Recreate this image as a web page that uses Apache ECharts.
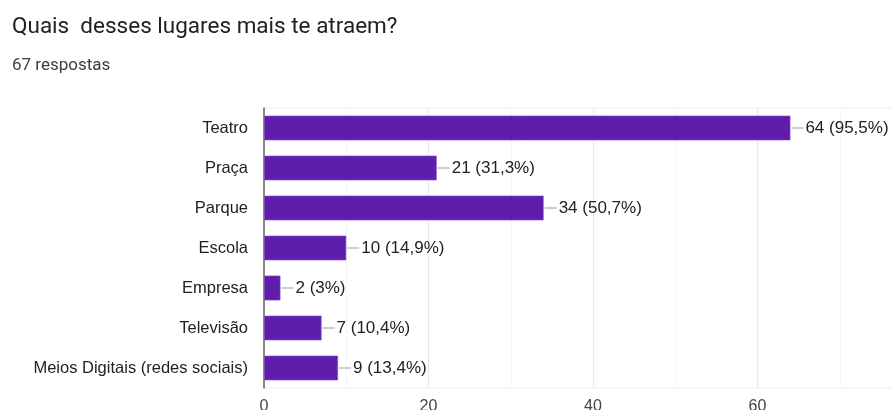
<!DOCTYPE html>
<html>
<head>
<meta charset="utf-8">
<script src="https://cdn.jsdelivr.net/npm/echarts@6/dist/echarts.min.js"></script>
<style>
html,body{margin:0;padding:0;background:#fff;}
#c{width:892px;height:410px;}
</style>
</head>
<body>
<div id="c"></div>
<script>
const titleText = 'Quais  desses lugares mais te atraem?';
const subtitleText = '67 respostas';
const categories = ['Teatro', 'Praça', 'Parque', 'Escola', 'Empresa', 'Televisão', 'Meios Digitais (redes sociais)'];
const values = [64, 21, 34, 10, 2, 7, 9];
const percents = ['95,5%', '31,3%', '50,7%', '14,9%', '3%', '10,4%', '13,4%'];
const xTicks = [0, 20, 40, 60, 80];

const chart = echarts.init(document.getElementById('c'), null, {renderer: 'canvas'});
const chartFont = '"Liberation Sans", Arial, sans-serif';
chart.setOption({
  animation: false,
  title: [
    {text: titleText, left: 7, top: 11, textStyle: {fontFamily: 'Roboto, sans-serif', fontSize: 22.5, fontWeight: 'normal', color: '#202124'}},
    {text: subtitleText, left: 7, top: 52, textStyle: {fontFamily: 'Roboto, sans-serif', fontSize: 17, fontWeight: 'normal', color: '#3c4043'}}
  ],
  grid: {left: 264, top: 108, bottom: 22, right: -30, outerBoundsMode: 'none', containLabel: false, show: true, borderColor: '#ececec', borderWidth: 1},
  xAxis: {
    type: 'value', min: xTicks[0], max: xTicks[xTicks.length - 1], interval: 20,
    axisLine: {show: false}, axisTick: {show: false},
    axisLabel: {margin: 11, fontFamily: chartFont, fontSize: 16, color: '#444'},
    splitLine: {show: true, lineStyle: {color: '#e8e8e8', width: 1}},
    minorTick: {show: false, splitNumber: 2},
    minorSplitLine: {show: true, lineStyle: {color: '#f4f4f4', width: 1}}
  },
  yAxis: {
    type: 'category', data: categories, inverse: true,
    axisLine: {show: true, lineStyle: {color: '#666', width: 1.5}},
    axisTick: {show: false},
    axisLabel: {margin: 16, fontFamily: chartFont, fontSize: 16.5, color: '#222'}
  },
  series: [{
    type: 'bar',
    data: values,
    barCategoryGap: '38%',
    itemStyle: {color: '#5e1dab', borderColor: '#8d63c9', borderWidth: 0.6},
    label: {
      show: true, position: 'right', distance: 1,
      formatter: function (p) { return '{l|}{t|' + p.value + ' (' + percents[p.dataIndex] + ')}'; },
      rich: {
        l: {width: 12, height: 1, backgroundColor: '#9a9a9a', verticalAlign: 'middle'},
        t: {fontFamily: chartFont, fontSize: 17, color: '#222', padding: [0, 0, 0, 2]}
      }
    }
  }]
});
</script>
</body>
</html>
